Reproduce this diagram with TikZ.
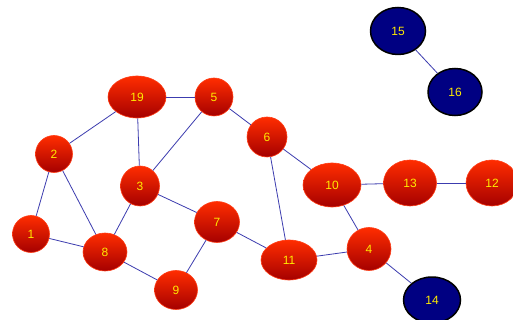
\documentclass[tikz,border=0pt]{standalone}
\usepackage{fontspec}
\setmainfont{Liberation Sans}
\usetikzlibrary{shapes.geometric}
\definecolor{edgeblue}{RGB}{60,60,175}
\definecolor{numyellow}{RGB}{255,235,0}
\definecolor{navyfill}{RGB}{0,0,130}
\tikzset{
  rnode/.style={ellipse, inner sep=0pt, top color={rgb,255:red,255;green,45;blue,0}, bottom color={rgb,255:red,165;green,0;blue,0}, draw={rgb,255:red,255;green,60;blue,20}, line width=0.6pt, text=numyellow, font=\fontsize{12}{12}\selectfont},
  bnode/.style={ellipse, inner sep=0pt, fill=navyfill, draw=black, line width=1.5pt, text=numyellow, font=\fontsize{12}{12}\selectfont},
  link/.style={draw=edgeblue, line width=0.8pt}
}
\begin{document}
\begin{tikzpicture}[x=1pt,y=-1pt]
\useasboundingbox (0,0) rectangle (513,320);
\fill[white] (0,0) rectangle (513,320);
\node[rnode, minimum width=37pt, minimum height=37pt] (n1) at (31,234) {1};
\node[rnode, minimum width=37pt, minimum height=37pt] (n2) at (54,154) {2};
\node[rnode, minimum width=44pt, minimum height=38pt] (n8) at (105,252) {8};
\node[rnode, minimum width=58pt, minimum height=42pt] (n19) at (137,97) {19};
\node[rnode, minimum width=38pt, minimum height=38pt] (n5) at (214,97) {5};
\node[rnode, minimum width=39pt, minimum height=40pt] (n3) at (140,186) {3};
\node[rnode, minimum width=40pt, minimum height=40pt] (n6) at (267,137) {6};
\node[rnode, minimum width=58pt, minimum height=44pt] (n10) at (332,185) {10};
\node[rnode, minimum width=53pt, minimum height=46pt] (n13) at (410,183) {13};
\node[rnode, minimum width=52pt, minimum height=46pt] (n12) at (492,183) {12};
\node[rnode, minimum width=45pt, minimum height=41pt] (n7) at (217,222) {7};
\node[rnode, minimum width=56pt, minimum height=40pt] (n11) at (289,260) {11};
\node[rnode, minimum width=43pt, minimum height=39pt] (n9) at (176,290) {9};
\node[rnode, minimum width=44pt, minimum height=43pt] (n4) at (369,249) {4};
\node[bnode, minimum width=55pt, minimum height=47pt] (n15) at (398,31) {15};
\node[bnode, minimum width=54pt, minimum height=47pt] (n16) at (455,92) {16};
\node[bnode, minimum width=57pt, minimum height=46pt] (n14) at (432,300) {14};
\path[link] (n1) -- (n2);
\path[link] (n1) -- (n8);
\path[link] (n2) -- (n8);
\path[link] (n2) -- (n19);
\path[link] (n19) -- (n5);
\path[link] (n19) -- (n3);
\path[link] (n5) -- (n3);
\path[link] (n5) -- (n6);
\path[link] (n3) -- (n8);
\path[link] (n3) -- (n7);
\path[link] (n8) -- (n9);
\path[link] (n9) -- (n7);
\path[link] (n7) -- (n11);
\path[link] (n6) -- (n11);
\path[link] (n6) -- (n10);
\path[link] (n10) -- (n13);
\path[link] (n13) -- (n12);
\path[link] (n10) -- (n4);
\path[link] (n11) -- (n4);
\path[link] (n4) -- (n14);
\path[link] (n15) -- (n16);
\end{tikzpicture}
\end{document}
